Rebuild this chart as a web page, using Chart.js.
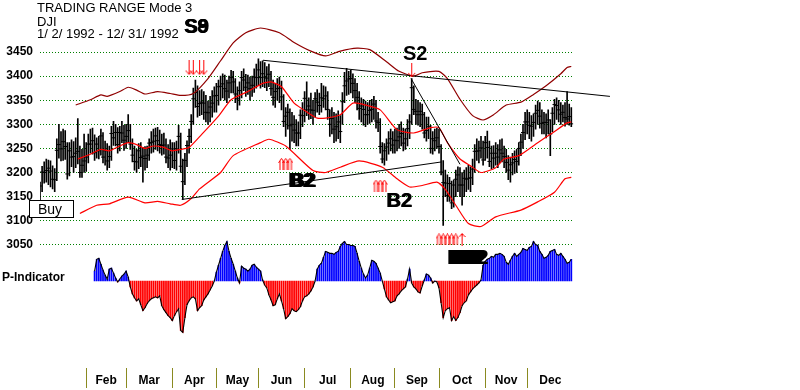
<!DOCTYPE html>
<html><head><meta charset="utf-8">
<script src="https://cdn.jsdelivr.net/npm/chart.js@4.4.1/dist/chart.umd.min.js"></script>
<style>html,body{margin:0;padding:0;background:#fff;overflow:hidden}</style>
</head><body>
<canvas id="c" width="800" height="390" style="display:block;width:800px;height:390px"></canvas>
<script>
// ---------- DATA ----------
const monthNames = ['Feb','Mar','Apr','May','Jun','Jul','Aug','Sep','Oct','Nov','Dec'];
const monthStarts = [22,41,63,84,104,126,148,169,190,212,232];
const lastDay = 254;
const priceTicks = [3050,3100,3150,3200,3250,3300,3350,3400,3450];

const closes = [
3172,3201,3200,3204,3209,3203,3186,3185,3246,3258,3249,3264,3254,3197,3245,3232,3233,3240,3244,3200,3215,3224,
3232,3259,3259,3266,3241,3259,3245,3276,3232,3245,3224,3233,3281,3272,3283,3258,3283,3282,3267,
3275,3287,3259,3236,3223,3222,3245,3231,3234,3229,3236,3261,3262,3265,3276,3266,3258,3256,3257,3232,3230,3236,
3249,3225,3249,3275,3213,3181,3225,3256,3275,3306,3353,3366,3337,3343,3346,3344,3325,3324,3336,3344,3359,
3360,3378,3379,3384,3374,3369,3386,3397,3388,3363,3353,3370,3397,3392,3377,3386,3374,3381,3398,3397,
3413,3397,3405,3398,3396,3404,3374,3356,3368,3374,3375,3357,3306,3317,3325,3297,3300,3288,3282,3282,3319,3318,
3354,3330,3338,3330,3329,3353,3346,3339,3355,3353,3359,3331,3300,3312,3290,3295,3305,3285,3347,3380,3390,3394,
3395,3385,3370,3356,3333,3338,3331,3320,3320,3329,3331,3342,3307,3304,3254,3228,3245,3253,3261,3270,3257,
3267,3266,3274,3281,3261,3270,3291,3305,3376,3331,3327,3320,3327,3320,3282,3287,3295,3250,3270,3266,3272,
3254,3201,3179,3178,3152,3177,3137,3174,3186,3195,3174,3174,3188,3186,3188,3189,3207,3244,3244,3245,3251,3226,
3262,3252,3223,3240,3230,3240,3232,3247,3240,3233,3221,3205,3216,3220,3227,3223,3250,3263,3283,3305,
3305,3298,3296,3304,3323,3329,3317,3302,3304,3304,3309,3280,3323,3341,3339,3330,3321,3325,3314,3311,3316,3301];

const highs = [
3180,3213,3222,3228,3226,3224,3214,3208,3270,3300,3285,3290,3287,3262,3262,3268,3264,3272,3312,3255,3248,3280,
3262,3280,3290,3292,3278,3272,3275,3290,3283,3265,3260,3255,3296,3306,3300,3293,3296,3306,3298,
3300,3320,3300,3270,3255,3248,3260,3262,3252,3254,3255,3270,3285,3290,3292,3294,3288,3280,3282,3270,3258,3268,
3262,3262,3265,3298,3282,3228,3240,3266,3290,3320,3375,3392,3380,3370,3372,3368,3360,3348,3358,3370,3378,
3385,3392,3400,3405,3402,3392,3400,3412,3410,3395,3378,3388,3410,3415,3404,3402,3398,3400,3415,3425,
3436,3430,3432,3428,3420,3425,3410,3392,3385,3395,3398,3390,3362,3335,3342,3332,3325,3318,3310,3305,3330,3345,
3368,3388,3355,3365,3350,3366,3372,3365,3385,3380,3378,3368,3330,3335,3325,3322,3328,3318,3366,3408,3416,3410,
3412,3405,3395,3385,3368,3355,3352,3348,3345,3350,3352,3358,3350,3325,3312,3262,3260,3270,3285,3290,3285,
3290,3292,3300,3305,3292,3290,3310,3320,3395,3380,3352,3350,3345,3342,3325,3315,3315,3298,3285,3290,3292,
3290,3258,3225,3205,3195,3190,3182,3185,3205,3212,3210,3200,3205,3210,3215,3212,3228,3258,3270,3265,3275,3265,
3275,3286,3265,3255,3256,3262,3258,3268,3270,3255,3248,3235,3232,3240,3245,3248,3262,3280,3300,3325,
3330,3325,3318,3322,3340,3348,3345,3330,3325,3322,3330,3310,3335,3352,3355,3350,3345,3340,3345,3368,3342,3335];

const lows = [
3143,3160,3178,3180,3175,3170,3166,3160,3183,3230,3224,3225,3227,3186,3193,3212,3200,3210,3218,3190,3190,3200,
3202,3220,3240,3238,3225,3230,3228,3236,3220,3215,3205,3210,3225,3256,3255,3240,3245,3262,3246,
3250,3262,3248,3222,3205,3200,3208,3212,3180,3205,3210,3225,3240,3242,3248,3245,3240,3236,3238,3220,3210,3205,
3210,3208,3205,3240,3200,3144,3175,3212,3240,3262,3300,3335,3315,3318,3320,3310,3305,3300,3305,3315,3325,
3325,3340,3350,3355,3350,3345,3355,3365,3365,3345,3330,3340,3355,3370,3358,3362,3350,3358,3366,3375,
3380,3375,3378,3376,3370,3378,3360,3340,3335,3350,3345,3330,3295,3275,3290,3248,3265,3262,3255,3255,3270,3295,
3305,3318,3310,3312,3300,3315,3325,3320,3325,3335,3330,3310,3275,3280,3262,3265,3270,3262,3300,3345,3360,3362,
3365,3355,3345,3330,3310,3305,3298,3295,3300,3302,3305,3310,3292,3285,3240,3220,3215,3225,3238,3245,3240,
3240,3245,3250,3255,3245,3248,3255,3270,3300,3320,3300,3298,3295,3290,3272,3265,3270,3240,3238,3245,3250,
3240,3195,3090,3150,3140,3140,3125,3128,3150,3160,3150,3132,3150,3160,3165,3160,3175,3200,3225,3220,3230,3215,
3225,3230,3212,3208,3210,3215,3210,3220,3222,3210,3200,3185,3180,3195,3198,3200,3215,3235,3250,3268,
3280,3270,3265,3275,3290,3300,3292,3280,3280,3272,3280,3235,3285,3300,3310,3305,3300,3305,3296,3300,3298,3295];

// moving-average envelope (read at sample days)
const upperDays = [17,24,29,32,38,42,46,50,56,62,67,73,80,86,92,98,105,114,121,129,136,143,151,157,165,171,178,182,190,194,200,206,211,216,222,229,235,241,248,251,253];
const upperVals = [3340,3351,3361,3358,3368,3377,3371,3363,3368,3364,3360,3364,3395,3432,3469,3490,3500,3490,3470,3452,3442,3452,3458,3455,3430,3410,3400,3407,3410,3395,3352,3318,3309,3320,3340,3346,3362,3380,3405,3418,3420];
const midDays = [18,24,29,33,38,42,46,50,54,59,63,67,71,77,85,91,99,106,110,115,121,128,132,136,143,149,155,162,170,178,186,190,194,200,205,210,217,221,228,237,244,251,253];
const midVals = [3228,3238,3248,3245,3255,3262,3258,3250,3255,3252,3245,3248,3252,3279,3317,3351,3368,3385,3388,3378,3344,3323,3313,3313,3320,3344,3340,3330,3289,3282,3293,3293,3262,3228,3214,3200,3210,3228,3235,3262,3282,3303,3305];
const lowerDays = [19,27,33,42,50,56,62,67,72,76,86,92,105,109,117,130,136,143,152,163,170,176,182,189,193,198,204,210,217,229,237,245,250,253];
const lowerVals = [3115,3132,3135,3149,3137,3140,3135,3132,3146,3166,3200,3235,3262,3269,3255,3204,3200,3211,3224,3211,3187,3170,3173,3180,3165,3132,3094,3088,3108,3122,3139,3159,3187,3190];

// trend lines [day, price]
const upperTrend = [[106.2,3433],[271.4,3358]];
const lowerTrend = [[67.5,3144],[191.3,3222]];
const s2Trend = [[176.7,3395],[200,3217]];

// P-Indicator, first value at day 26
const pStart = 26;
const pValues = [
10,22,23,17,11,6,2,12,13,8,3,-1,2,5,7,10,4,-6,-13,-17,
-20,-18,-24,-30,-27,-23,-20,-18,-17,-16,-17,-15,-25,-29,-32,-35,-37,-40,-35,-31,
-28,-50,-52,-37,-24,-20,-17,-16,-18,-30,-27,-25,-19,-16,-13,-9,-5,0,9,16,
23,30,36,40,30,23,17,10,3,-2,15,13,12,10,12,16,17,14,12,10,
1,-4,-7,-14,-19,-25,-24,-18,-13,-20,-28,-38,-36,-33,-28,-30,-31,-29,-26,-20,
-16,-15,-13,-10,-6,0,12,16,18,24,30,29,28,28,27,29,30,35,38,40,
37,37,36,36,35,28,20,13,7,3,6,13,21,20,18,13,8,0,-8,-16,
-19,-22,-21,-20,-15,-13,-10,-8,-6,2,12,-2,-6,-8,-11,-12,-5,1,7,6,
3,-2,0,-1,-7,-22,-37,-30,-28,-27,-40,-36,-40,-37,-32,-25,-22,-20,-14,-11,
-8,-6,-4,-2,1,16,20,22,23,25,24,27,27,28,27,25,19,17,21,25,
28,25,27,29,33,32,31,34,35,40,37,36,30,27,23,24,26,30,31,32,
27,26,28,25,22,18,19,22];

// signals
const sellDays = [71,73,76,78], sellLevel = 3417;
const s2Days = [177], s2Level = 3412;
const buyDays1 = [115,117,119], buyLevel1 = 3218;
const buyDays2 = [160,162,164], buyLevel2 = 3173;
const buyDays3 = [190,192,194,196,198], buyLevel3 = 3061;
const thinUpDays = [201];

// ---------- MARKER IMAGES ----------
function downArrow(){const c=document.createElement('canvas');c.width=9;c.height=15;const g=c.getContext('2d');g.strokeStyle='#ff0000';g.lineWidth=1;g.beginPath();g.moveTo(4.5,0);g.lineTo(4.5,14);g.moveTo(1,10);g.lineTo(4.5,14);g.lineTo(8,10);g.stroke();return c;}
function hollowUp(){const c=document.createElement('canvas');c.width=7;c.height=12;const g=c.getContext('2d');g.strokeStyle='#ff0000';g.lineWidth=1;g.beginPath();g.moveTo(0.5,5);g.lineTo(3.5,0.5);g.lineTo(6.5,5);g.moveTo(2,3);g.lineTo(2,12);g.moveTo(5,3);g.lineTo(5,12);g.stroke();return c;}
function thinUp(){const c=document.createElement('canvas');c.width=7;c.height=13;const g=c.getContext('2d');g.strokeStyle='#ff0000';g.lineWidth=1;g.beginPath();g.moveTo(3.5,0.5);g.lineTo(3.5,13);g.moveTo(0.5,4);g.lineTo(3.5,0.5);g.lineTo(6.5,4);g.stroke();return c;}
const imgDown = downArrow(), imgHollow = hollowUp(), imgThin = thinUp();

// ---------- BUILD ----------
const days = closes.map((c,i)=>i);
const hlData = days.map(i=>({x:i, y:[lows[i], highs[i]]}));
const closeData = days.map(i=>({x:i, y:closes[i]}));
const pData = pValues.map((v,k)=>({x:pStart+k, y:v}));
const pColors = pValues.map(v=> v>=0 ? '#0000ff' : '#ff0000');
const pts = (d,v)=>d.map((x,k)=>({x:x,y:v[k]}));
const pairs = a=>a.map(p=>({x:p[0],y:p[1]}));
const lvl = (d,l)=>d.map(x=>({x:x,y:l}));

const xTicks = [], labelMap = new Map(), boundary = new Set(monthStarts);
monthStarts.forEach((s,k)=>{const e = k+1<monthStarts.length?monthStarts[k+1]:lastDay; xTicks.push({value:s}); const m=(s+e)/2; xTicks.push({value:m}); labelMap.set(m, monthNames[k]);});
xTicks.sort((a,b)=>a.value-b.value);

Chart.defaults.font.family = 'Arial, "Liberation Sans", sans-serif';

const textPlugin = {
  id:'texts',
  afterDraw(chart){
    const g = chart.ctx; g.save();
    g.fillStyle='#000'; g.textAlign='left'; g.textBaseline='alphabetic';
    g.font='13px Arial, "Liberation Sans"';
    g.fillText('TRADING RANGE Mode 3', 37, 12);
    g.fillText('DJI', 37, 26);
    g.fillText('1/ 2/ 1992 - 12/ 31/ 1992', 37, 38);
    g.font='bold 20px Arial, "Liberation Sans"';
    g.fillText('S8',184,33); g.fillText('S9',184,33); g.fillText('S9',185,33);
    g.fillText('S2',403,60);
    for (let dx=0; dx<=3; dx++) g.fillText('B2',288+dx,187);
    g.fillText('B2',386,207); g.fillText('B2',387,207);
    for (let dx=0; dx<=16; dx+=2) g.fillText('B2',447+dx,264);
    g.font='bold 12px Arial, "Liberation Sans"';
    g.fillText('P-Indicator',2,281);
    g.fillStyle='#fff'; g.fillRect(29.5,200.5,44,17);
    g.strokeStyle='#000'; g.lineWidth=1; g.strokeRect(29.5,200.5,44,17);
    g.fillStyle='#000'; g.font='14px Arial, "Liberation Sans"';
    g.fillText('Buy',38,214);
    g.restore();
  }
};

new Chart(document.getElementById('c'), {
  type:'bar',
  data:{ datasets:[
    {type:'bar', data:hlData, backgroundColor:'#000', barThickness:1, grouped:false, yAxisID:'y', order:20},
    {type:'scatter', data:closeData, pointStyle:'line', pointRadius:2, borderColor:'#000', borderWidth:1, yAxisID:'y', order:19},
    {type:'bar', data:pData, backgroundColor:pColors, barThickness:1.1, grouped:false, yAxisID:'y2', order:18},
    {type:'line', data:pData, borderColor:'#000', borderWidth:1.1, pointRadius:0, yAxisID:'y2', order:17},
    {type:'line', data:pts(upperDays,upperVals), borderColor:'#900000', borderWidth:1.2, pointRadius:0, tension:0.2, yAxisID:'y', order:10, clip:false},
    {type:'line', data:pts(midDays,midVals), borderColor:'#ff0000', borderWidth:1.2, pointRadius:0, tension:0.2, yAxisID:'y', order:10},
    {type:'line', data:pts(lowerDays,lowerVals), borderColor:'#ff0000', borderWidth:1.2, pointRadius:0, tension:0.2, yAxisID:'y', order:10},
    {type:'line', data:pairs(upperTrend), borderColor:'#000', borderWidth:1, pointRadius:0, yAxisID:'y', order:5, clip:false},
    {type:'line', data:pairs(lowerTrend), borderColor:'#000', borderWidth:1, pointRadius:0, yAxisID:'y', order:5, clip:false},
    {type:'line', data:pairs(s2Trend), borderColor:'#000', borderWidth:1, pointRadius:0, yAxisID:'y', order:5, clip:false},
    {type:'scatter', data:lvl(sellDays,sellLevel), pointStyle:imgDown, yAxisID:'y', order:1},
    {type:'scatter', data:lvl(s2Days,s2Level), pointStyle:imgDown, yAxisID:'y', order:1},
    {type:'scatter', data:lvl(buyDays1,buyLevel1), pointStyle:imgHollow, yAxisID:'y', order:1},
    {type:'scatter', data:lvl(buyDays2,buyLevel2), pointStyle:imgHollow, yAxisID:'y', order:1},
    {type:'scatter', data:lvl(buyDays3,buyLevel3), pointStyle:imgHollow, yAxisID:'y', order:1},
    {type:'scatter', data:lvl(thinUpDays,buyLevel3), pointStyle:imgThin, yAxisID:'y', order:1}
  ]},
  options:{
    responsive:false, animation:false, devicePixelRatio:1, events:[],
    layout:{padding:{top:10,right:226.6,bottom:0,left:0}},
    plugins:{legend:{display:false}, tooltip:{enabled:false}, title:{display:false}},
    scales:{
      x:{type:'linear', min:0, max:lastDay, offset:false,
         afterBuildTicks:a=>{a.ticks = xTicks.map(t=>({value:t.value}));},
         afterFit:s=>{s.height=22;},
         border:{display:false},
         grid:{offset:false, drawOnChartArea:false, drawTicks:true, tickLength:20, lineWidth:1,
               color:ctx=> (ctx.tick && boundary.has(ctx.tick.value)) ? '#8a8a20' : 'rgba(0,0,0,0)'},
         ticks:{autoSkip:false, maxRotation:0, minRotation:0, padding:-15, color:'#000',
                font:{size:12, weight:'bold'}, callback:v=> labelMap.get(v) || ''}},
      y:{position:'left', min:2794.2, max:3528.6,
         afterBuildTicks:a=>{a.ticks = priceTicks.map(v=>({value:v}));},
         afterFit:s=>{s.width=40;},
         border:{display:false, dash:[1,2]},
         grid:{color:'#008000', lineWidth:1, drawTicks:false},
         ticks:{padding:7, color:'#000', font:{size:12, weight:'bold'}, callback:v=>String(v)}},
      y2:{display:false, min:-88, max:270}
    }
  },
  plugins:[textPlugin]
});
</script>
</body></html>
